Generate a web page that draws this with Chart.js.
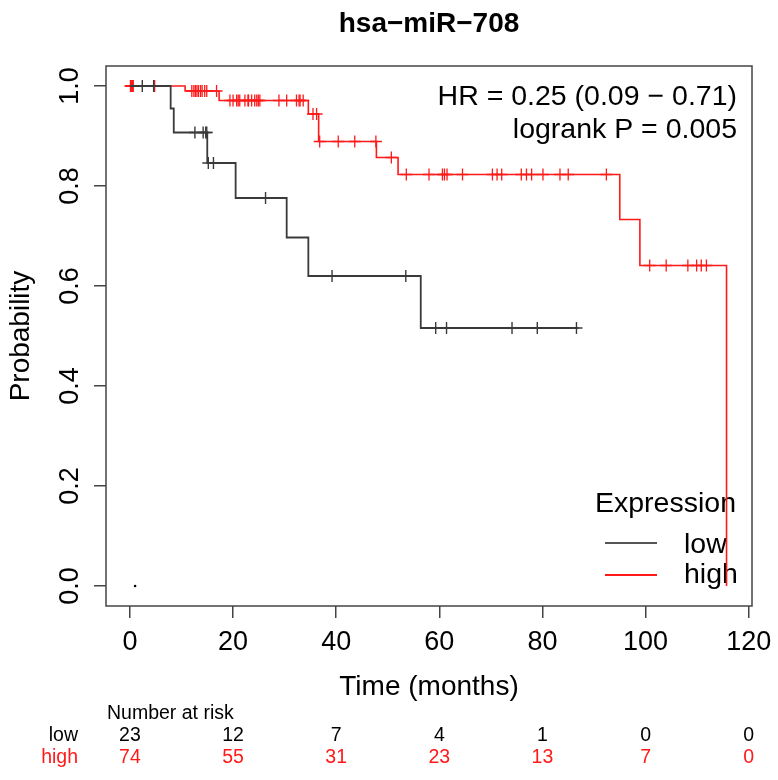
<!DOCTYPE html>
<html>
<head>
<meta charset="utf-8">
<script src="https://cdn.jsdelivr.net/npm/chart.js@4.4.1/dist/chart.umd.min.js"></script>
<style>
  html, body { margin: 0; padding: 0; background: #fff; }
  #wrap { width: 778px; height: 780px; }
</style>
</head>
<body>
<div id="wrap"><canvas id="km" width="778" height="780"></canvas></div>
<script>
// ===== Data =====
const xTickValues = [0, 20, 40, 60, 80, 100, 120];
const yTickValues = [0, 0.2, 0.4, 0.6, 0.8, 1.0];

// low expression: step times (months) and survival after each step
const lowTimes = [0, 7.9, 8.5, 15.0, 20.5, 30.4, 34.6, 56.4, 87.0];
const lowSurv  = [1.0, 0.955, 0.907, 0.846, 0.776, 0.697, 0.620, 0.516, 0.516];
const lowCensor = [2.4, 4.6, 12.6, 14.2, 14.7, 14.9, 15.2, 16.2, 26.3, 39.2, 53.5,
                   59.3, 61.4, 74.1, 79.0, 86.6];

// high expression
const highTimes = [0, 10.7, 17.3, 34.6, 36.6, 47.8, 52.0, 95.0, 98.9, 115.7];
const highSurv  = [1.0, 0.990, 0.971, 0.944, 0.889, 0.857, 0.823, 0.733, 0.641, 0.0];
const highCensor = [0.1, 0.2, 0.35, 0.5, 0.65, 4.8, 12.0, 12.4, 12.7, 13.0, 13.3, 13.7,
                    14.0, 14.5, 14.9, 16.8, 19.4, 20.0, 20.7, 21.0, 21.3, 22.3, 22.9,
                    23.0, 23.6, 24.2, 24.6, 24.9, 25.2, 28.9, 30.4, 32.3, 32.8, 33.0,
                    33.6, 35.5, 36.2, 36.8, 40.4, 43.6, 47.7, 50.7, 53.6, 58.0, 60.6,
                    61.0, 61.5, 64.5, 70.3, 71.2, 72.1, 75.9, 76.9, 77.9, 80.1, 83.4,
                    85.0, 92.4, 100.8, 104.0, 108.2, 109.9, 110.8, 111.8];

// stray point plotted at the bottom left
const strayTimes = [1.0];
const strayProb  = [0.0];

// number at risk at each x tick
const riskLow  = [23, 12, 7, 4, 1, 0, 0];
const riskHigh = [74, 55, 31, 23, 13, 7, 0];

const titleText = "hsa\u2212miR\u2212708";
const hrText = "HR = 0.25 (0.09 \u2212 0.71)";
const pText = "logrank P = 0.005";

// ===== Styling =====
const FONT = '"Liberation Sans", Arial, Helvetica, sans-serif';
const lowColor = "#3a3a3a";
const highColor = "#ff1a1a";
const axisColor = "#444";

// ===== Helpers =====
function toPoints(xs, ys) {
  return xs.map((x, i) => ({ x, y: ys[i] }));
}

// survival level of a step curve at time t (used to seat censor marks on the curve)
function levelAt(times, surv, t) {
  let v = surv[0];
  for (let i = 0; i < times.length; i++) {
    if (times[i] <= t) v = surv[i];
  }
  return v;
}

function censorPoints(cTimes, times, surv) {
  return cTimes.map(t => ({ x: t, y: levelAt(times, surv, t) }));
}

// ===== Decoration plugin: box, tick labels, texts, legend, risk table =====
const kmDecor = {
  id: "kmDecor",
  afterDraw(chart) {
    const ctx = chart.ctx;
    const area = chart.chartArea;
    const xs = chart.scales.x;
    const ys = chart.scales.y;
    const mid = (area.left + area.right) / 2;

    ctx.save();

    // plot box
    ctx.strokeStyle = axisColor;
    ctx.lineWidth = 1.5;
    ctx.strokeRect(area.left, area.top, area.right - area.left, area.bottom - area.top);

    ctx.fillStyle = "#000";

    // title
    ctx.font = "bold 28px " + FONT;
    ctx.textAlign = "center";
    ctx.textBaseline = "alphabetic";
    ctx.fillText(titleText, mid, 32);

    // x tick labels
    ctx.font = "27px " + FONT;
    xTickValues.forEach(v => ctx.fillText(String(v), xs.getPixelForValue(v), 650));

    // y tick labels (rotated, R style)
    yTickValues.forEach(v => {
      ctx.save();
      ctx.translate(78, ys.getPixelForValue(v));
      ctx.rotate(-Math.PI / 2);
      ctx.fillText(v.toFixed(1), 0, 0);
      ctx.restore();
    });

    // axis titles
    ctx.font = "28px " + FONT;
    ctx.fillText("Time (months)", mid, 695);
    ctx.save();
    ctx.translate(29, (area.top + area.bottom) / 2);
    ctx.rotate(-Math.PI / 2);
    ctx.fillText("Probability", 0, 0);
    ctx.restore();

    // HR / logrank text
    ctx.font = "28.5px " + FONT;
    ctx.textAlign = "right";
    ctx.fillText(hrText, 737, 105);
    ctx.fillText(pText, 737, 138);

    // number at risk
    ctx.font = "19.5px " + FONT;
    ctx.textAlign = "left";
    ctx.fillText("Number at risk", 107, 719);
    ctx.textAlign = "right";
    ctx.fillText("low", 78, 741);
    ctx.fillStyle = highColor;
    ctx.fillText("high", 78, 763);
    ctx.textAlign = "center";
    xTickValues.forEach((v, i) => {
      const px = xs.getPixelForValue(v);
      ctx.fillStyle = "#000";
      ctx.fillText(String(riskLow[i]), px, 741);
      ctx.fillStyle = highColor;
      ctx.fillText(String(riskHigh[i]), px, 763);
    });

    ctx.restore();
  },
  beforeDatasetsDraw(chart) {
    // legend sits under the curves
    const ctx = chart.ctx;
    ctx.save();
    ctx.font = "28.5px " + FONT;
    ctx.fillStyle = "#000";
    ctx.textAlign = "left";
    ctx.textBaseline = "alphabetic";
    ctx.fillText("Expression", 595, 512);
    ctx.fillText("low", 684, 553);
    ctx.fillText("high", 684, 583);
    ctx.lineWidth = 2;
    ctx.strokeStyle = "#555";
    ctx.beginPath(); ctx.moveTo(605, 543); ctx.lineTo(657, 543); ctx.stroke();
    ctx.strokeStyle = highColor;
    ctx.beginPath(); ctx.moveTo(605, 575); ctx.lineTo(657, 575); ctx.stroke();
    ctx.restore();
  }
};

// ===== Build chart =====
function renderChart() {
  const ctx = document.getElementById("km").getContext("2d");

  const axisGrid = {
    drawOnChartArea: false,
    drawTicks: true,
    tickLength: 12,
    color: axisColor,
    lineWidth: 1.5
  };

  new Chart(ctx, {
    type: "line",
    data: {
      datasets: [
        {
          label: "low",
          data: toPoints(lowTimes, lowSurv),
          stepped: true,
          borderColor: lowColor,
          borderWidth: 1.8,
          pointRadius: 0,
          fill: false
        },
        {
          label: "high",
          data: toPoints(highTimes, highSurv),
          stepped: true,
          borderColor: highColor,
          borderWidth: 1.6,
          pointRadius: 0,
          fill: false
        },
        {
          type: "scatter",
          label: "low censored",
          data: censorPoints(lowCensor, lowTimes, lowSurv),
          pointStyle: "cross",
          pointRadius: 6,
          pointBorderWidth: 1.4,
          pointBorderColor: lowColor,
          showLine: false
        },
        {
          type: "scatter",
          label: "high censored",
          data: censorPoints(highCensor, highTimes, highSurv),
          pointStyle: "cross",
          pointRadius: 6,
          pointBorderWidth: 1.3,
          pointBorderColor: highColor,
          showLine: false
        },
        {
          type: "scatter",
          label: "stray",
          data: toPoints(strayTimes, strayProb),
          pointStyle: "circle",
          pointRadius: 1.3,
          pointBorderWidth: 0,
          pointBackgroundColor: "#000",
          showLine: false
        }
      ]
    },
    options: {
      responsive: false,
      animation: false,
      events: [],
      layout: { padding: { left: 0, right: 26, top: 66, bottom: 0 } },
      plugins: {
        legend: { display: false },
        title: { display: false },
        tooltip: { enabled: false }
      },
      scales: {
        x: {
          type: "linear",
          min: -4.64,
          max: 120.64,
          afterBuildTicks: s => { s.ticks = xTickValues.map(v => ({ value: v })); },
          afterFit: s => { s.height = 174; },
          ticks: { display: false },
          grid: axisGrid,
          border: { display: false }
        },
        y: {
          type: "linear",
          min: -0.04,
          max: 1.04,
          afterBuildTicks: s => { s.ticks = yTickValues.map(v => ({ value: v })); },
          afterFit: s => { s.width = 106; },
          ticks: { display: false },
          grid: axisGrid,
          border: { display: false }
        }
      }
    },
    plugins: [kmDecor]
  });
}

renderChart();
</script>
</body>
</html>
